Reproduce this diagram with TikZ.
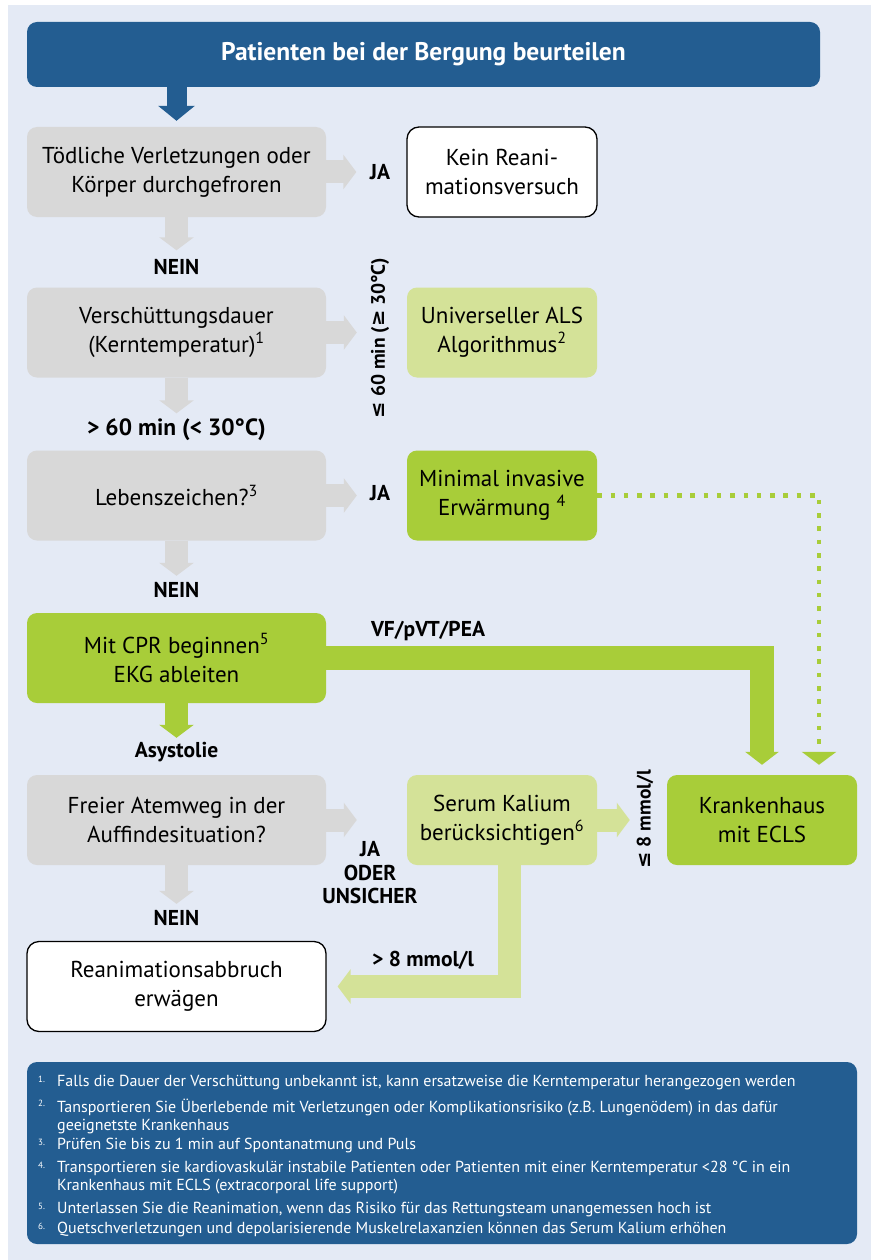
\documentclass[tikz,border=0pt]{standalone}
\usepackage{fontspec}
\setmainfont{PT Sans}
\newfontfamily\symfont{DejaVu Sans}
\usepackage{tikz}
\usetikzlibrary{arrows.meta}
\usepackage{xcolor}
\definecolor{bgblue}{RGB}{228,234,245}
\definecolor{darkblue}{RGB}{35,93,145}
\definecolor{boxgrey}{RGB}{216,216,216}
\definecolor{limegreen}{RGB}{168,205,57}
\definecolor{palegreen}{RGB}{212,226,152}
\newcommand{\boxfont}{\fontsize{23}{29}\selectfont}
\newcommand{\lblfont}{\bfseries\fontsize{21.5}{23.5}\selectfont}
\newcommand{\notefont}{\fontsize{16}{18}\selectfont}
\tikzset{
	box/.style={rounded corners=10pt, minimum width=299pt, minimum height=90pt, inner sep=0pt, align=center, font=\boxfont},
	greybox/.style={box, fill=boxgrey},
	whitebox/.style={box, fill=white, draw=black, line width=1.3pt, rounded corners=12pt},
	sidebox/.style={box, minimum width=190pt},
	lbl/.style={font=\lblfont, align=center, inner sep=2pt},
	fatarrow/.style={line width=23pt, -{Triangle[width=34pt,length=13pt]}},
	downarrow/.style={fatarrow, draw=boxgrey, shorten >=37pt},
	rightarrow/.style={fatarrow, draw=boxgrey, shorten >=50pt}
}

\begin{document}
\begin{tikzpicture}[x=1pt,y=-1pt]
	\useasboundingbox (0,0) rectangle (871,1260);
	\fill[white] (0,0) rectangle (871,1260);
	\fill[bgblue] (8,5) rectangle (871,1260);

	\node[box, fill=darkblue, minimum width=793pt, minimum height=65pt, text=white, font=\bfseries\fontsize{25.5}{28}\selectfont] (head) at (423.5,54.5) {Patienten bei der Bergung beurteilen};

	\node[greybox] (b1) at (176.5,172) {Tödliche Verletzungen oder\\Körper durchgefroren};
	\node[greybox] (b2) at (176.5,332.5) {Verschüttungsdauer\\(Kerntemperatur)\textsuperscript{1}};
	\node[greybox] (b3) at (176.5,495.5) {Lebenszeichen?\textsuperscript{3}};
	\node[box, fill=limegreen] (b4) at (176.5,658) {Mit CPR beginnen\textsuperscript{5}\\EKG ableiten};
	\node[greybox] (b5) at (176.5,820) {Freier Atemweg in der\\Auffindesituation?};
	\node[whitebox] (b6) at (176.5,986.5) {Reanimationsabbruch\\erwägen};

	\node[sidebox, whitebox, minimum width=190pt] (r1) at (502,172) {Kein Reani-\\mationsversuch};
	\node[sidebox, fill=palegreen] (r2) at (502,332.5) {Universeller ALS\\Algorithmus\textsuperscript{2}};
	\node[sidebox, fill=limegreen] (r3) at (502,495.5) {Minimal invasive\\Erwärmung \textsuperscript{4}};
	\node[sidebox, fill=palegreen] (r4) at (502,820) {Serum Kalium\\berücksichtigen\textsuperscript{6}};
	\node[sidebox, fill=limegreen] (hosp) at (762,820) {Krankenhaus\\mit ECLS};

	\node[lbl] (nein1) at (176.5,267) {NEIN};
	\node[lbl, font=\bfseries\fontsize{23.5}{26}\selectfont] (gt60) at (176.5,430) {> 60 min (< 30°C)};
	\node[lbl] (nein3) at (176.5,590) {NEIN};
	\node[lbl] (asys) at (176.5,752) {Asystolie};
	\node[lbl] (nein5) at (176.5,918) {NEIN};
	\node[lbl] (ja1) at (380,172) {JA};
	\node[lbl, rotate=90, font=\bfseries\fontsize{19.5}{22}\selectfont] (le60) at (380,338) {{\symfont\bfseries ≤} 60 min ({\symfont\bfseries ≥} 30°C)};
	\node[lbl] (ja3) at (380,493) {JA};
	\node[lbl] (vf) at (428,631) {VF/pVT/PEA};
	\node[lbl] (jaoder) at (370,873) {JA\\ODER\\UNSICHER};
	\node[lbl, rotate=90, font=\bfseries\fontsize{19.5}{22}\selectfont] (le8) at (645,819) {{\symfont\bfseries ≤} 8 mmol/l};
	\node[lbl] (gt8) at (423,960) {> 8 mmol/l};

	\draw[darkblue, line width=20pt, -{Triangle[width=36pt,length=15pt]}, shorten >=6pt] (head.south -| b1.north) -- (b1.north);
	\foreach \a/\b in {b1/b2, b2/b3, b3/b4, b5/b6}
	\draw[downarrow] (\a.south) -- (\b.north);
	\draw[fatarrow, draw=limegreen, shorten >=37pt] (b4.south) -- (b5.north);
	\foreach \a/\b in {b1/r1, b2/r2, b3/r3, b5/r4}
	\draw[rightarrow] (\a.east) -- (\a.east -| \b.west);

	\draw[fatarrow, draw=limegreen, line width=24pt, -{Triangle[width=33pt,length=13pt]}, shorten >=10pt] (b4.east) -- (b4.east -| hosp.north) -- (hosp.north);
	\draw[limegreen, line width=4.5pt, dash pattern=on 4.5pt off 8.8pt, -{Triangle[width=34pt,length=13pt]}, shorten >=10pt] (r3.east) -| ([xshift=57pt]hosp.north);
	\draw[fatarrow, draw=palegreen, shorten >=37pt] (r4.east) -- (hosp.west);
	\draw[fatarrow, draw=palegreen, shorten >=11pt] ([xshift=7pt]r4.south) |- (b6.east);

	\node[box, fill=darkblue, minimum width=830pt, minimum height=182pt] (notes) at (442,1153) {};
	\foreach \num/\y/\txt in {1/1088/{Falls die Dauer der Verschüttung unbekannt ist, kann ersatzweise die Kerntemperatur herangezogen werden},
		2/1112/{Tansportieren Sie Überlebende mit Verletzungen oder Komplikationsrisiko (z.B. Lungenödem) in das dafür\\geeignetste Krankenhaus},
		3/1151/{Prüfen Sie bis zu 1 min auf Spontanatmung und Puls},
		4/1174/{Transportieren sie kardiovaskulär instabile Patienten oder Patienten mit einer Kerntemperatur <28 °C in ein\\Krankenhaus mit ECLS (extracorporal life support)},
		5/1215/{Unterlassen Sie die Reanimation, wenn das Risiko für das Rettungsteam unangemessen hoch ist},
		6/1235/{Quetschverletzungen und depolarisierende Muskelrelaxanzien können das Serum Kalium erhöhen}}
	{
		\node[anchor=base west, inner sep=0pt, text=white, font=\fontsize{9}{9}\selectfont] (num\num) at (38,\y-6) {\num.};
		\node[anchor=north west, inner sep=0pt, text=white, align=left, font=\notefont] (note\num) at (57,\y-13) {\txt};
	}
\end{tikzpicture}
\end{document}
